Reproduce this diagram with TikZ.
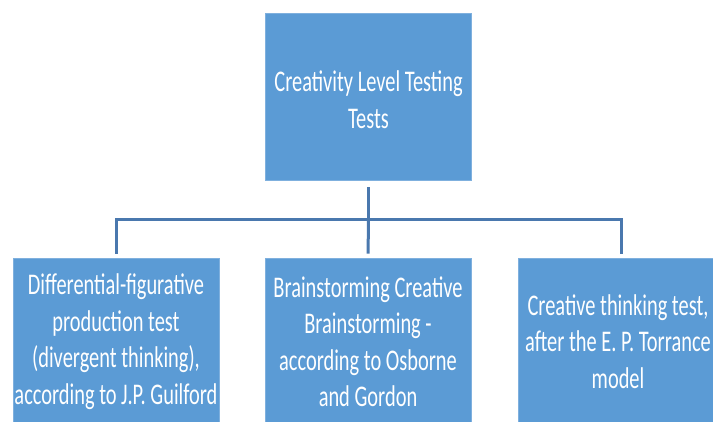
\documentclass[tikz,border=0pt]{standalone}
\usepackage{fontspec}
\usepackage{graphicx}
\setmainfont{Carlito}
\definecolor{boxfill}{HTML}{5B9BD5}
\definecolor{boxedge}{HTML}{7FB0DE}
\definecolor{linkcol}{HTML}{4A78AE}
\newcommand{\sqz}[1]{\scalebox{0.68}[1]{#1}}
\tikzset{
  card/.style={rectangle, fill=boxfill, draw=boxedge, line width=0.8pt,
    minimum width=206pt, minimum height=167pt, inner sep=0pt},
  cardtext/.style={text=white, align=center, inner sep=0pt,
    font=\fontsize{30}{36.5}\selectfont},
  conn/.style={draw=linkcol, line width=3pt}
}
\begin{document}
\begin{tikzpicture}[x=1pt, y=-1pt]
  \useasboundingbox (0,0) rectangle (713,422);

  % boxes
  \node[card] (top) at (368.5,96.5) {};
  \node[card] (c1) at (116,341.5) {};
  \node[card] (c2) at (368,341.5) {};
  \node[card] (c3) at (621,341.5) {};

  % labels, each kept inside its box
  \begin{scope}
    \clip (top.south west) rectangle (top.north east);
    \node[cardtext] (ttop) at ([yshift=-3pt]top.center)
      {\sqz{Creativity Level Testing}\\ \sqz{Tests}};
  \end{scope}
  \begin{scope}
    \clip (c1.south west) rectangle (c1.north east);
    \node[cardtext] (t1) at (c1.center)
      {\sqz{Differential-figurative}\\ \sqz{production test}\\
       \sqz{(divergent thinking),}\\ \sqz{according to J.P. Guilford}};
  \end{scope}
  \begin{scope}
    \clip (c2.south west) rectangle (c2.north east);
    \node[cardtext] (t2) at (c2.center)
      {\sqz{Brainstorming Creative}\\ \sqz{Brainstorming -}\\
       \sqz{according to Osborne}\\ \sqz{and Gordon}};
  \end{scope}
  \begin{scope}
    \clip (c3.south west) rectangle (c3.north east);
    \node[cardtext] (t3) at ([xshift=-3pt]c3.center)
      {\sqz{Creative thinking test,}\\ \sqz{after the E. P. Torrance}\\ \sqz{model}};
  \end{scope}

  % tree connectors
  \coordinate (hub) at (368.5,220);
  \draw[conn, shorten <=7pt] (top.south) -- (hub);
  \draw[conn, shorten >=4pt] (hub) -| (c1.north);
  \draw[conn, shorten >=4pt] (hub) -- (c2.north);
  \draw[conn, shorten >=4pt] (hub) -| (c3.north);
\end{tikzpicture}
\end{document}
